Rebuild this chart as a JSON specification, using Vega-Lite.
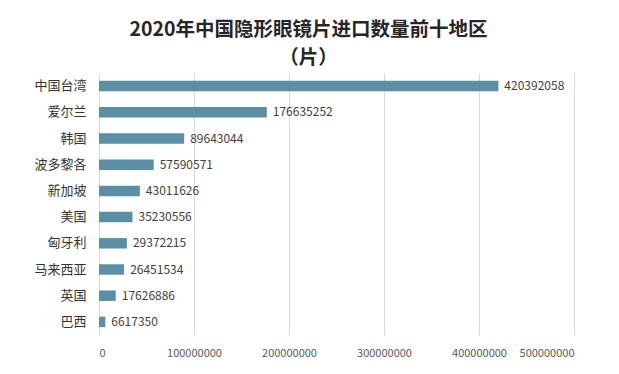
{
  "$schema": "https://vega.github.io/schema/vega-lite/v6.json",
  "width": 475,
  "height": 262,
  "autosize": {"type": "none"},
  "padding": {"left": 99, "top": 73, "right": 45, "bottom": 39},
  "background": "#ffffff",
  "title": {
    "text": ["2020年中国隐形眼镜片进口数量前十地区", "（片）"],
    "font": "Noto Sans CJK SC",
    "fontSize": 19.5,
    "fontWeight": "bold",
    "color": "#262626",
    "anchor": "middle",
    "frame": "group",
    "dx": -28,
    "offset": 5,
    "lineHeight": 28
  },
  "data": {
    "values": [
      {"region": "中国台湾", "value": 420392058},
      {"region": "爱尔兰", "value": 176635252},
      {"region": "韩国", "value": 89643044},
      {"region": "波多黎各", "value": 57590571},
      {"region": "新加坡", "value": 43011626},
      {"region": "美国", "value": 35230556},
      {"region": "匈牙利", "value": 29372215},
      {"region": "马来西亚", "value": 26451534},
      {"region": "英国", "value": 17626886},
      {"region": "巴西", "value": 6617350}
    ]
  },
  "encoding": {
    "y": {
      "field": "region",
      "type": "nominal",
      "sort": null,
      "scale": {"paddingInner": 0.6, "paddingOuter": 0.3},
      "axis": {
        "title": null,
        "domain": false,
        "ticks": false,
        "labelFont": "Noto Sans CJK SC",
        "labelFontSize": 13,
        "labelColor": "#333333",
        "labelPadding": 13
      }
    },
    "x": {
      "field": "value",
      "type": "quantitative",
      "scale": {"domain": [0, 500000000], "nice": false},
      "axis": {
        "title": null,
        "values": [0, 100000000, 200000000, 300000000, 400000000, 500000000],
        "format": "d",
        "domain": false,
        "ticks": false,
        "grid": true,
        "gridColor": "#d9d9d9",
        "gridWidth": 1,
        "labelFont": "Noto Sans CJK SC",
        "labelFontSize": 11,
        "labelColor": "#595959",
        "labelPadding": 12
      }
    }
  },
  "layer": [
    {"mark": {"type": "bar", "color": "#5b8fa6"}},
    {
      "mark": {"type": "text", "align": "left", "dx": 6, "font": "Noto Sans CJK SC", "fontSize": 12, "color": "#404040"},
      "encoding": {"text": {"field": "value", "type": "quantitative", "format": "d"}}
    }
  ],
  "config": {"view": {"stroke": null}}
}
